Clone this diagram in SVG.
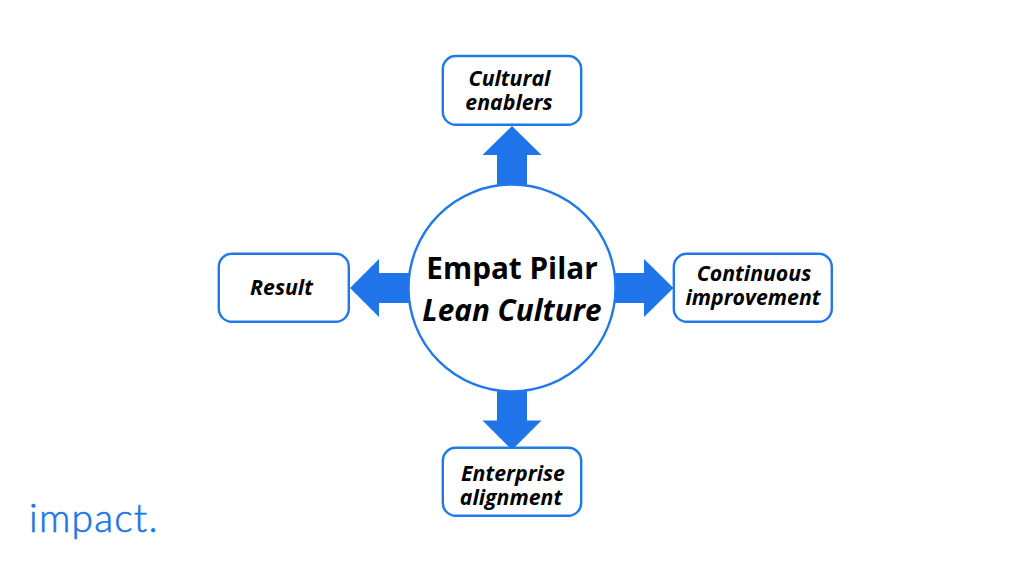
<svg xmlns="http://www.w3.org/2000/svg" width="1024" height="576" viewBox="0 0 1024 576">
<style>
.box{fill:#fff;stroke:#2079e8;stroke-width:2.4}
.arrow{fill:#1e74e8;stroke:none}
.lbl{font-family:"Open Sans",sans-serif;font-weight:700;font-style:italic;font-size:21.3px;fill:#000;text-anchor:middle}
.title{font-family:"Open Sans",sans-serif;font-weight:700;font-size:29.7px;fill:#000;text-anchor:middle}
.logo{font-family:Lato,sans-serif;font-weight:300;font-size:39px;fill:#1e74e8;stroke:#1e74e8;stroke-width:0.6px;letter-spacing:1.2px}
</style>
<rect width="1024" height="576" fill="#fff"/>
<g id="connectors">
<polygon class="arrow" points="512,126 541.5,155 527,155 527,187 497,187 497,155 482.5,155"/>
<polygon class="arrow" points="350,288 379,259 379,273 411,273 411,303 379,303 379,317"/>
<polygon class="arrow" points="673.5,288 644,259 644,273 613,273 613,303 644,303 644,317"/>
<polygon class="arrow" points="512,450 541.5,420.500 527,420.500 527,389 497,389 497,420.500 482.5,420.500"/>
</g>
<g id="center">
<circle class="box" cx="512" cy="288" r="103.5"/>
<text class="title"><tspan x="512" y="279">Empat Pilar</tspan><tspan x="512" y="320.500" font-style="italic">Lean Culture</tspan></text>
</g>
<g id="node-top">
<rect class="box" x="442.8" y="56" width="138.4" height="68.8" rx="13"/>
<text class="lbl"><tspan x="509.500" y="86">Cultural</tspan><tspan x="509" y="109.500">enablers</tspan></text>
</g>
<g id="node-left">
<rect class="box" x="218.8" y="253.8" width="130" height="68" rx="13"/>
<text class="lbl" x="281.500" y="295">Result</text>
</g>
<g id="node-right">
<rect class="box" x="673.8" y="253.8" width="158" height="68" rx="13"/>
<text class="lbl"><tspan x="754" y="281">Continuous</tspan><tspan x="753" y="305">improvement</tspan></text>
</g>
<g id="node-bottom">
<rect class="box" x="442.8" y="447.8" width="138.4" height="68" rx="13"/>
<text class="lbl"><tspan x="513" y="481">Enterprise</tspan><tspan x="511" y="505">alignment</tspan></text>
</g>
<text class="logo" x="29" y="532">impact.</text>
</svg>
